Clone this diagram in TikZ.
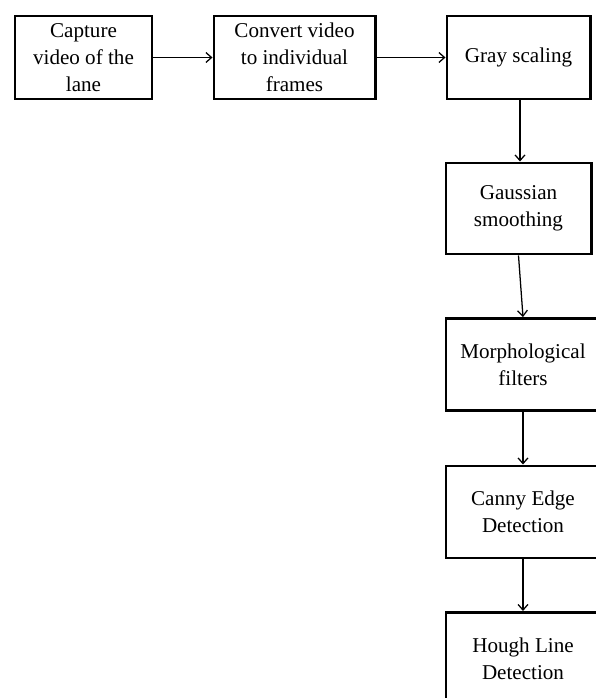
\documentclass[tikz,border=0pt]{standalone}
\usepackage{fontspec}
\setmainfont{Liberation Serif}
\usetikzlibrary{arrows.meta}

\begin{document}
\begin{tikzpicture}[x=0.025cm, y=-0.025cm,
  stepbox/.style={draw, line width=2.1pt, align=center, inner sep=0pt,
    minimum height=2.3cm, font=\fontsize{15}{19.2}\selectfont},
  flow/.style={line width=0.9pt, -{Straight Barb[length=4pt,width=7pt]}}]
\useasboundingbox (0,0) rectangle (596,698);
\clip (0,0) rectangle (596,698);
% top row
\node[stepbox, minimum width=3.425cm, minimum height=2.075cm] (cap) at (83.5,57.5) {Capture\\video of the\\lane};
\node[stepbox, minimum width=4.025cm, minimum height=2.075cm] (conv) at (294.5,57.5) {Convert video\\to individual\\frames};
\node[stepbox, minimum width=3.575cm, minimum height=2.075cm] (gray) at (518.5,57.5) {Gray scaling};
% right column
\node[stepbox, minimum width=3.625cm, minimum height=2.275cm] (gauss) at (518.5,208.5) {Gaussian\\smoothing};
\node[stepbox, minimum width=3.85cm] (morph) at (523,364.5) {Morphological\\filters};
\node[stepbox, minimum width=3.85cm] (canny) at (523,512) {Canny Edge\\Detection};
\node[stepbox, minimum width=3.85cm] (hough) at (523,658.5) {Hough Line\\Detection};
% arrows
\draw[flow] (cap) -- (conv);
\draw[flow] (conv) -- (gray);
\draw[flow] (gray.south -| 520,0) -- (gauss.north -| 520,0);
\draw[flow] (gauss.south) -- (morph.north);
\draw[flow] (morph) -- (canny);
\draw[flow] (canny) -- (hough);
\end{tikzpicture}
\end{document}
